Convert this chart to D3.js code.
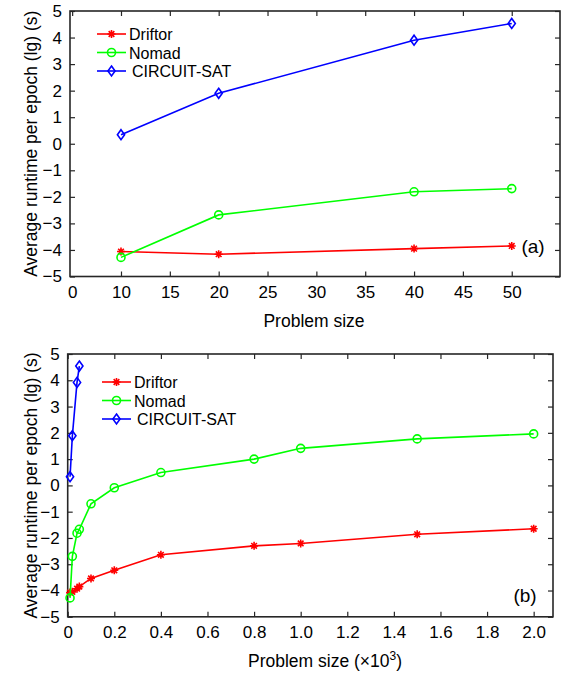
<!DOCTYPE html>
<html>
<head>
<meta charset="utf-8">
<script src="https://cdn.jsdelivr.net/npm/d3@7"></script>
<style>
  body { margin: 0; background: #fff; }
  svg { display: block; font-family: "Liberation Sans", Arial, sans-serif; }
</style>
</head>
<body>
<svg id="chart" width="561" height="673"></svg>
<script>
// panel (a): small problem sizes
const sizesA = [10, 20, 40, 50];
const driftorA = [-4.06, -4.16, -3.95, -3.85];
const nomadA = [-4.28, -2.68, -1.81, -1.69];
const circuitA = [0.34, 1.9, 3.9, 4.53];
const xTicksA = [5, 10, 15, 20, 25, 30, 35, 40, 45, 50];
const xTickLabelsA = ["0", "10", "15", "20", "25", "30", "35", "40", "45", "50"];

// panel (b): problem size in thousands
const sizesB = [0.01, 0.02, 0.04, 0.05, 0.1, 0.2, 0.4, 0.8, 1.0, 1.5, 2.0];
const driftorB = [-4.08, -4.05, -3.93, -3.85, -3.54, -3.23, -2.64, -2.30, -2.21, -1.86, -1.65];
const nomadB = [-4.28, -2.70, -1.82, -1.67, -0.70, -0.09, 0.49, 1.00, 1.41, 1.77, 1.96];
const circuitSizesB = [0.01, 0.02, 0.04, 0.05];
const circuitB = [0.33, 1.89, 3.92, 4.54];
const xTicksB = [0, 0.2, 0.4, 0.6, 0.8, 1.0, 1.2, 1.4, 1.6, 1.8, 2.0];

const yTicks = [-5, -4, -3, -2, -1, 0, 1, 2, 3, 4, 5];
const seriesNames = ["Driftor", "Nomad", "CIRCUIT-SAT"];
const seriesColors = ["#ff0000", "#00ff00", "#0000ff"];
const seriesMarkers = ["asterisk", "circle", "diamond"];

const svg = d3.select("#chart");
const axisColor = "#262626";

function markerPath(type) {
    if (type === "asterisk") {
        const r = 4, d = r * Math.SQRT1_2;
        return `M${-r},0L${r},0M0,${-r}L0,${r}M${-d},${-d}L${d},${d}M${-d},${d}L${d},${-d}`;
    }
    if (type === "circle") {
        const r = 4;
        return `M${r},0A${r},${r} 0 1,1 ${-r},0A${r},${r} 0 1,1 ${r},0Z`;
    }
    return "M0,-5L3.6,0L0,5L-3.6,0Z";
}

function drawPanel(cfg) {
    const g = svg.append("g");
    const x = d3.scaleLinear().domain(cfg.xDomain).range([cfg.left, cfg.right]);
    const y = d3.scaleLinear().domain([-5, 5]).range([cfg.bottom, cfg.top]);

    // axes with inward ticks, mirrored on top/right
    const xAxis = g.append("g")
        .attr("transform", `translate(0,${cfg.bottom})`)
        .call(d3.axisBottom(x).tickValues(cfg.xTicks).tickSize(-5).tickPadding(9)
            .tickFormat((d, i) => cfg.xLabels[i]));
    g.append("g")
        .attr("transform", `translate(${cfg.left},0)`)
        .call(d3.axisLeft(y).tickValues(yTicks).tickSize(-5).tickPadding(8)
            .tickFormat(d => d < 0 ? "\u2212" + Math.abs(d) : d));
    g.append("g")
        .attr("transform", `translate(0,${cfg.top})`)
        .call(d3.axisTop(x).tickValues(cfg.xTicks).tickSize(-5).tickFormat(""));
    g.append("g")
        .attr("transform", `translate(${cfg.right},0)`)
        .call(d3.axisRight(y).tickValues(yTicks).tickSize(-5).tickFormat(""));

    g.selectAll(".domain").remove();
    g.selectAll(".tick line").attr("stroke", axisColor).attr("stroke-width", 1.2);
    g.selectAll(".tick text").attr("fill", "#000").style("font-size", "17px")
        .style("font-family", "'Liberation Sans', Arial, sans-serif");
    if (cfg.hideFirstXTick) xAxis.select(".tick line").remove();

    g.append("rect")
        .attr("x", cfg.left).attr("y", cfg.top)
        .attr("width", cfg.right - cfg.left).attr("height", cfg.bottom - cfg.top)
        .attr("fill", "none").attr("stroke", axisColor).attr("stroke-width", 1.6);

    // series
    const line = d3.line().x(d => x(d[0])).y(d => y(d[1]));
    cfg.series.forEach((s, i) => {
        const pts = d3.zip(s.xs, s.ys);
        g.append("path")
            .datum(pts)
            .attr("fill", "none")
            .attr("stroke", seriesColors[i])
            .attr("stroke-width", 1.6)
            .attr("d", line);
        g.selectAll(".mk" + i)
            .data(pts)
            .enter()
            .append("path")
            .attr("class", "mk" + i)
            .attr("transform", d => `translate(${x(d[0])},${y(d[1])})`)
            .attr("d", markerPath(seriesMarkers[i]))
            .attr("fill", "none")
            .attr("stroke", seriesColors[i])
            .attr("stroke-width", 1.6);
    });

    // legend
    seriesNames.forEach((name, i) => {
        const ly = cfg.legendY + i * 18.5;
        g.append("line")
            .attr("x1", cfg.legendX).attr("x2", cfg.legendX + 29)
            .attr("y1", ly).attr("y2", ly)
            .attr("stroke", seriesColors[i]).attr("stroke-width", 1.6);
        g.append("path")
            .attr("transform", `translate(${cfg.legendX + 14.5},${ly})`)
            .attr("d", markerPath(seriesMarkers[i]))
            .attr("fill", "none").attr("stroke", seriesColors[i]).attr("stroke-width", 1.6);
        g.append("text")
            .attr("x", cfg.legendX + (i === 2 ? 35 : 32)).attr("y", ly + 6)
            .style("font-size", "16px")
            .text(name);
    });

    // panel tag
    g.append("text")
        .attr("x", cfg.tagX).attr("y", cfg.tagY)
        .attr("text-anchor", "middle")
        .style("font-size", "19px")
        .text(cfg.tag);

    // axis titles
    g.append("text")
        .attr("transform", `translate(${cfg.yTitleX},${(cfg.top + cfg.bottom) / 2}) rotate(-90)`)
        .attr("text-anchor", "middle")
        .style("font-size", "17.5px")
        .text("Average runtime per epoch (lg) (s)");

    const xt = g.append("text")
        .attr("x", cfg.xTitleX).attr("y", cfg.xTitleY)
        .attr("text-anchor", "middle")
        .style("font-size", "17.5px")
        .text(cfg.xTitle);
    if (cfg.xTitleSup) {
        xt.append("tspan").text("(\u00d710");
        xt.append("tspan").attr("dy", -7).style("font-size", "12px").text("3");
        xt.append("tspan").attr("dy", 7).text(")");
    }
}

drawPanel({
    left: 70, right: 560, top: 11, bottom: 276.5,
    xDomain: [4.78, 54.94],
    xTicks: xTicksA, xLabels: xTickLabelsA, hideFirstXTick: true,
    series: [
        { xs: sizesA, ys: driftorA },
        { xs: sizesA, ys: nomadA },
        { xs: sizesA, ys: circuitA }
    ],
    legendX: 97, legendY: 34,
    tag: "(a)", tagX: 533, tagY: 253,
    yTitleX: 37, xTitle: "Problem size", xTitleX: 314, xTitleY: 327
});

drawPanel({
    left: 67.7, right: 553, top: 354, bottom: 616.8,
    xDomain: [0, 2.083],
    xTicks: xTicksB, xLabels: xTicksB.map(d => d === 0 ? "0" : d3.format(".1f")(d)),
    hideFirstXTick: false,
    series: [
        { xs: sizesB, ys: driftorB },
        { xs: sizesB, ys: nomadB },
        { xs: circuitSizesB, ys: circuitB }
    ],
    legendX: 102, legendY: 382,
    tag: "(b)", tagX: 525, tagY: 602,
    yTitleX: 37, xTitle: "Problem size ", xTitleSup: true, xTitleX: 325, xTitleY: 667
});
</script>
</body>
</html>
